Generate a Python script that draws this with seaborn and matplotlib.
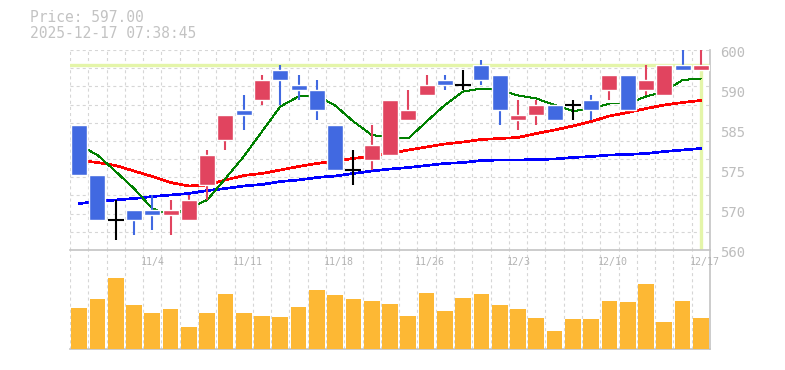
import numpy as np
import pandas as pd
import seaborn as sns
import matplotlib.pyplot as plt
from matplotlib.transforms import blended_transform_factory, ScaledTranslation

# --- daily data ---
dates = ["10/29", "10/30", "10/31", "11/3", "11/4", "11/5", "11/6", "11/7",
         "11/10", "11/11", "11/12", "11/13", "11/14", "11/17", "11/18", "11/19",
         "11/20", "11/21", "11/25", "11/26", "11/27", "11/28", "12/1", "12/2",
         "12/3", "12/4", "12/5", "12/8", "12/9", "12/10", "12/11", "12/12",
         "12/15", "12/16", "12/17"]
opens = [585, 575, 566, 568, 568, 567, 566, 573, 582, 588, 590, 596, 593, 592,
         585, 576, 578, 579, 586, 591, 594, 593, 597, 595, 586, 587, 589, 589,
         590, 592, 595, 592, 591, 597, 596]
highs = [585, 575, 570, 568, 571, 570, 571, 580, 587, 591, 595, 597, 595, 594,
         585, 580, 585, 590, 592, 595, 595, 596, 598, 595, 590, 590, 589, 590,
         591, 595, 595, 597, 597, 601, 601]
lows = [575, 566, 562, 563, 564, 563, 566, 570, 580, 584, 589, 589, 590, 586,
        576, 573, 576, 579, 586, 591, 592, 592, 593, 585, 584, 585, 586, 586,
        586, 590, 588, 591, 591, 596, 596]
closes = [575, 566, 566, 566, 567, 568, 570, 579, 587, 587, 594, 594, 592, 588,
          576, 576, 581, 590, 588, 593, 593, 593, 594, 588, 587, 589, 586, 589,
          588, 595, 588, 594, 597, 596, 597]
ma_short = [581.0, 579.0, 575.7, 572.3, 568.3, 567.0, 568.3, 570.0, 574.3, 578.7,
            583.7, 588.7, 590.7, 590.9, 588.9, 585.7, 583.0, 582.5, 582.3, 585.7,
            589.0, 591.7, 592.3, 592.0, 590.9, 590.3, 589.0, 587.8, 588.2, 589.3,
            589.3, 590.7, 591.7, 594.0, 594.3]
ma_mid = [577.9, 577.5, 576.9, 575.8, 574.7, 573.5, 572.8, 573.0, 574.0, 574.9,
          575.3, 576.0, 576.7, 577.3, 577.8, 578.3, 578.8, 579.3, 580.0, 580.6,
          581.2, 581.6, 582.1, 582.3, 582.5, 583.3, 584.0, 584.8, 585.7, 586.8,
          587.5, 588.3, 589.0, 589.5, 589.9]
ma_long = [569.3, 569.7, 570.0, 570.3, 570.7, 571.0, 571.3, 571.9, 572.3, 572.8,
           573.1, 573.7, 574.0, 574.5, 574.8, 575.3, 575.8, 576.2, 576.5, 576.9,
           577.3, 577.5, 577.9, 578.0, 578.0, 578.1, 578.2, 578.5, 578.7, 579.0,
           579.1, 579.3, 579.7, 580.0, 580.3]
volumes = [41, 50, 71, 44, 36, 40, 22, 36, 55, 36, 33, 32, 42, 59, 54, 50, 48, 45,
           33, 56, 38, 51, 55, 44, 40, 31, 18, 30, 30, 48, 47, 65, 27, 48, 31]

last_price = 597.00
timestamp = "2025-12-17 07:38:45"
price_ticks = [600, 592, 584, 576, 568, 560]
price_tick_labels = ["600", "590", "585", "575", "570", "560"]
date_label_idx = [4, 9, 14, 19, 24, 29, 34]

df = pd.DataFrame({"date": dates, "open": opens, "high": highs, "low": lows,
                   "close": closes, "ma_s": ma_short, "ma_m": ma_mid,
                   "ma_l": ma_long, "volume": volumes})
df["idx"] = np.arange(len(df))
n = len(df)

# --- style ---
sns.set_style("white")
plt.rcParams["font.family"] = ["DejaVu Sans Mono"]
plt.rcParams["lines.scale_dashes"] = False

UP, DOWN = "#e1445f", "#4169e1"
GRID = dict(color="#d6d6d6", lw=0.8, ls=(0, (2.2, 2.2)))
SPINE = "#c4c4c4"
CROSS = "#e4f5a9"

fig = plt.figure(figsize=(7.85, 3.70), dpi=100)
ax = fig.add_axes([70 / 785, 120 / 370, 640 / 785, 200 / 370])
axv = fig.add_axes([70 / 785, 21 / 370, 640 / 785, 99 / 370])

# --- price panel ---
ax.set_xlim(-0.5, n - 0.5)
ax.set_ylim(560, 600)
ax.set_xticks([])
ax.set_yticks([])
ax.set_xticks(np.arange(-0.5, n, 1), minor=True)
ax.set_yticks(np.linspace(560, 600, 12), minor=True)
ax.tick_params(which="both", length=0, labelbottom=False, labelleft=False)
ax.grid(which="minor", **GRID)
ax.set_axisbelow(True)
for s in ["top", "left", "bottom"]:
    ax.spines[s].set_visible(False)
ax.spines["right"].set_color(SPINE)
ax.spines["right"].set_linewidth(1.2)

# current price crosshair
ax.axhline(last_price, color=CROSS, lw=2.4, zorder=1.5)
ax.vlines(df["idx"].iloc[-1], 560, last_price, color=CROSS, lw=2.4, zorder=1.5)

# moving averages (crisp, un-smoothed look like the original)
sns.lineplot(x=df["idx"], y=df["ma_l"], ax=ax, color="#0000ff", lw=1.2,
             zorder=2, antialiased=False)
sns.lineplot(x=df["idx"], y=df["ma_m"], ax=ax, color="#ff0000", lw=1.2,
             zorder=2, antialiased=False)
sns.lineplot(x=df["idx"], y=df["ma_s"], ax=ax, color="#008000", lw=0.7,
             zorder=2, antialiased=False)

# candles
doji = df["close"] == df["open"]
up = df["close"] > df["open"]
colors = np.where(doji, "black", np.where(up, UP, DOWN))
ax.vlines(df["idx"], df["low"], df["high"], colors=colors, lw=1.5, zorder=3)
body = df[~doji]
ax.bar(body["idx"], (body["close"] - body["open"]).abs(),
       bottom=body[["open", "close"]].min(axis=1), width=0.87,
       color=colors[~doji.values], zorder=4)
dj = df[doji]
ax.hlines(dj["close"], dj["idx"] - 0.435, dj["idx"] + 0.435, colors="black",
          lw=1.5, zorder=4)

# right-hand price labels
lab_tf = blended_transform_factory(ax.transAxes, ax.transData) + \
    ScaledTranslation(10 / 100, -3 / 100, fig.dpi_scale_trans)
for v, t in zip(price_ticks, price_tick_labels):
    ax.text(1.0, v, t, transform=lab_tf, ha="left", va="center",
            fontsize=10, color="#bdbdbd", clip_on=False)
ax.set_xlabel("")
ax.set_ylabel("")

# --- volume panel ---
sns.barplot(x=df["idx"], y=df["volume"], ax=axv, color="#fdb834",
            saturation=1, width=0.86, linewidth=0, errorbar=None, zorder=3)
axv.set_xlim(-0.5, n - 0.5)
axv.set_ylim(0, 99)
axv.set_xticks([])
axv.set_yticks([])
axv.set_xticks(np.arange(-0.5, n, 1), minor=True)
axv.tick_params(which="both", length=0, labelbottom=False, labelleft=False)
axv.grid(which="minor", axis="x", **GRID)
axv.set_axisbelow(True)
axv.set_xlabel("")
axv.set_ylabel("")
axv.spines["left"].set_visible(False)
for s in ["top", "right", "bottom"]:
    axv.spines[s].set_color(SPINE)
    axv.spines[s].set_linewidth(1.2)

date_tf = blended_transform_factory(axv.transData, axv.transAxes)
for i in date_label_idx:
    axv.text(i - 0.62, 0.88, dates[i], transform=date_tf, ha="left",
             va="center", fontsize=7.2, color="#b3b3b3", zorder=5)

# --- header text ---
fig.text(30 / 785, 1 - 18 / 370, f"Price: {last_price:.2f}", ha="left",
         va="center", fontsize=10.5, color="#c3c3c3")
fig.text(30 / 785, 1 - 33 / 370, timestamp, ha="left", va="center",
         fontsize=10.5, color="#c3c3c3")

fig.savefig("out.png", dpi=100)
plt.close(fig)
